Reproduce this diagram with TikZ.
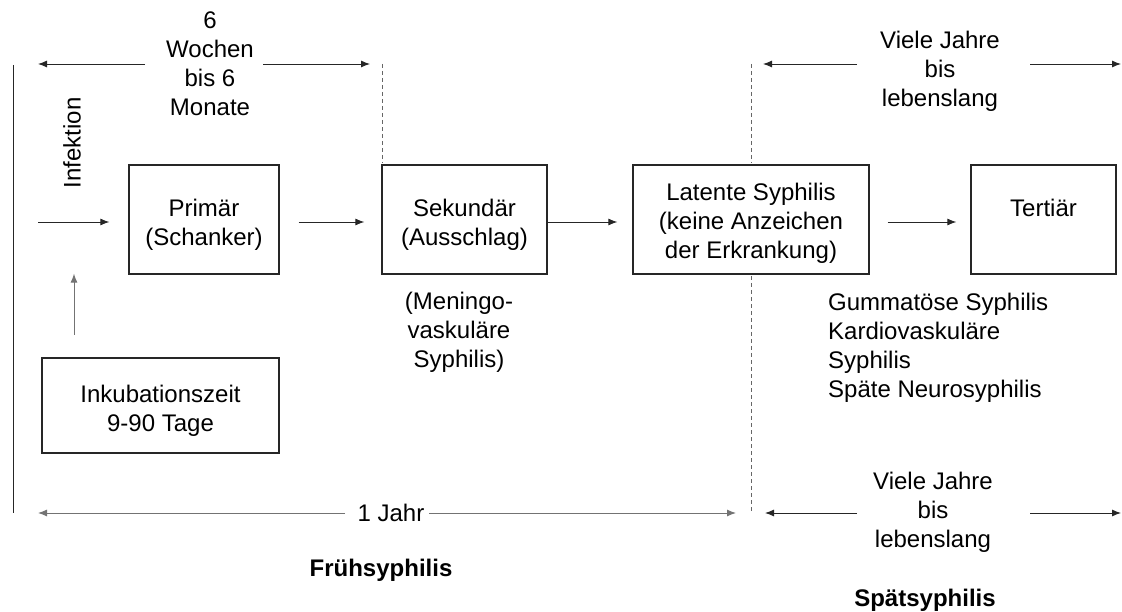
\documentclass[tikz,border=0pt]{standalone}
\usepackage{fontspec}
\setmainfont{Liberation Sans}
\usetikzlibrary{arrows.meta}
\tikzset{
  box/.style={draw=black!85, line width=1.3pt, inner sep=0pt},
  lbl/.style={align=center, anchor=base, inner sep=0pt},
  arr/.style={draw=black!85, line width=0.9pt, -{Latex[length=9pt,width=7pt]}},
  garr/.style={draw=black!55, line width=1pt, -{Latex[length=9pt,width=7pt]}},
  gdash/.style={draw=black!60, line width=1pt, dash pattern=on 4pt off 3pt},
}
\begin{document}
\begin{tikzpicture}[x=1pt,y=-1pt, font=\fontsize{24pt}{29pt}\selectfont]
\useasboundingbox (0,0) rectangle (1122,612);
% boxes
\node[box, minimum width=150pt, minimum height=109pt] (prim) at (204,219.5) {};
\node[box, minimum width=165pt, minimum height=109pt] (sek) at (464.5,219.5) {};
\node[box, minimum width=236pt, minimum height=109pt] (lat) at (751,219.5) {};
\node[box, minimum width=145pt, minimum height=109pt] (tert) at (1043.5,219.5) {};
\node[box, minimum width=237pt, minimum height=95pt] (inkub) at (160.5,405.5) {};
% box texts (anchor=base is the last line's baseline)
\node[lbl] (primt) at (204,245.5) {Primär\\(Schanker)};
\node[lbl] (sekt) at (464.5,245.5) {Sekundär\\(Ausschlag)};
\node[lbl] (latt) at (751,259) {Latente Syphilis\\(keine Anzeichen\\der Erkrankung)};
\node[lbl] (tertt) at (1043.5,216.5) {Tertiär};
\node[lbl] (inkubt) at (160.5,431) {Inkubationszeit\\9-90 Tage};
% free labels
\node[lbl] (woch) at (210,115.5) {6\\Wochen\\bis 6\\Monate};
\node[lbl, rotate=90] (infek) at (80.5,143) {Infektion};
\node[lbl] (mening) at (459,367) {(Meningo-\\vaskuläre\\Syphilis)};
\node[align=left, anchor=base west, inner sep=0pt] (spaet) at (828,397) {Gummatöse Syphilis\\Kardiovaskuläre\\Syphilis\\Späte Neurosyphilis};
\node[lbl] (vieleo) at (940,106.5) {Viele Jahre\\bis\\lebenslang};
\node[lbl] (vieleu) at (933,547) {Viele Jahre\\bis\\lebenslang};
\node[lbl] (jahr) at (391,521.5) {1 Jahr};
\node[lbl, font=\fontsize{24pt}{29pt}\selectfont\bfseries] (frueh) at (381,576.5) {Frühsyphilis};
\node[lbl, font=\fontsize{24pt}{29pt}\selectfont\bfseries] (spaets) at (925,606.5) {Spätsyphilis};
% coordinates
\coordinate (vl1) at (13,65);
\coordinate (vl2) at (13,513);
\coordinate (ta1) at (145,64);
\coordinate (ta1e) at (38,64);
\coordinate (ta2) at (263,64);
\coordinate (ta2e) at (370,64);
\coordinate (d1a) at (382,64);
\coordinate (d1b) at (382,163);
\coordinate (inf1) at (38,222);
\coordinate (upb) at (74,335);
\coordinate (d2a) at (751,64);
\coordinate (d2b) at (751,163);
\coordinate (d2c) at (751,276);
\coordinate (d2d) at (751,512);
\coordinate (tr1) at (857,64);
\coordinate (tr1e) at (763,64);
\coordinate (tr2) at (1030,64);
\coordinate (tr2e) at (1121,64);
\coordinate (j1) at (345,513);
\coordinate (j1e) at (38,513);
\coordinate (j2) at (429,513);
\coordinate (j2e) at (736,513);
\coordinate (br1) at (857,513);
\coordinate (br1e) at (765,513);
\coordinate (br2) at (1030,513);
\coordinate (br2e) at (1121,513);
% lines
\draw[black!85, line width=1pt] (vl1) -- (vl2);
\draw[arr] (ta1) -- (ta1e);
\draw[arr] (ta2) -- (ta2e);
\draw[gdash] (d1a) -- (d1b);
\draw[arr] (inf1) -- ([xshift=-19pt]prim.west |- inf1);
\draw[garr] (upb) -- ([yshift=1pt]prim.south -| upb);
\draw[arr] ([xshift=19pt,yshift=-2.5pt]prim.east) -- ([xshift=-17pt,yshift=-2.5pt]sek.west);
\draw[arr] ([yshift=-2.5pt]sek.east) -- ([xshift=-15pt,yshift=-2.5pt]lat.west);
\draw[arr] ([xshift=18pt,yshift=-2.5pt]lat.east) -- ([xshift=-14pt,yshift=-2.5pt]tert.west);
\draw[gdash] (d2a) -- (d2b);
\draw[gdash] (d2c) -- (d2d);
\draw[arr] (tr1) -- (tr1e);
\draw[arr] (tr2) -- (tr2e);
\draw[garr] (j1) -- (j1e);
\draw[garr] (j2) -- (j2e);
\draw[arr] (br1) -- (br1e);
\draw[arr] (br2) -- (br2e);
\end{tikzpicture}
\end{document}
